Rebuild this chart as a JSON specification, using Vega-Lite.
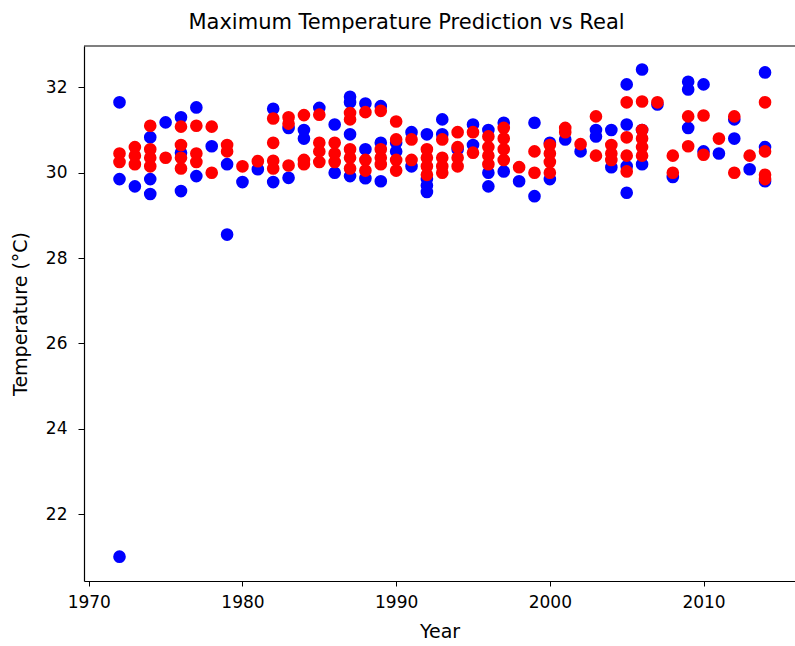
{
  "$schema": "https://vega.github.io/schema/vega-lite/v6.json",
  "width": 711,
  "height": 535,
  "autosize": {"type": "none"},
  "padding": {"left": 84, "top": 46, "right": 0, "bottom": 65},
  "background": "white",
  "config": {
    "view": {"stroke": null},
    "font": "DejaVu Sans",
    "axis": {"domainColor": "black", "tickColor": "black", "labelColor": "black", "titleColor": "black", "grid": false, "labelFontSize": 17, "titleFontSize": 19, "titleFontWeight": "normal", "tickSize": 5, "domainWidth": 1.2}
  },
  "title": {"text": "Maximum Temperature Prediction vs Real", "fontSize": 21, "fontWeight": "normal", "color": "black", "anchor": "middle", "dx": -33, "offset": 12},
  "datasets": {
    "real": [
      {"year":1972,"temp":31.65},{"year":1972,"temp":29.85},{"year":1972,"temp":21.0},
      {"year":1973,"temp":29.68},
      {"year":1974,"temp":30.83},{"year":1974,"temp":29.85},{"year":1974,"temp":29.5},
      {"year":1975,"temp":31.18},
      {"year":1976,"temp":31.3},{"year":1976,"temp":30.47},{"year":1976,"temp":29.57},
      {"year":1977,"temp":31.53},{"year":1977,"temp":29.92},
      {"year":1978,"temp":30.62},
      {"year":1979,"temp":30.2},{"year":1979,"temp":28.55},
      {"year":1980,"temp":29.78},
      {"year":1981,"temp":30.08},
      {"year":1982,"temp":31.5},{"year":1982,"temp":29.78},
      {"year":1983,"temp":31.05},{"year":1983,"temp":29.88},
      {"year":1984,"temp":31.0},{"year":1984,"temp":30.8},
      {"year":1985,"temp":31.52},
      {"year":1986,"temp":31.13},{"year":1986,"temp":30.0},
      {"year":1987,"temp":31.78},{"year":1987,"temp":31.65},{"year":1987,"temp":30.9},{"year":1987,"temp":29.92},
      {"year":1988,"temp":31.62},{"year":1988,"temp":30.55},{"year":1988,"temp":29.87},
      {"year":1989,"temp":31.56},{"year":1989,"temp":30.7},{"year":1989,"temp":29.8},
      {"year":1990,"temp":30.7},{"year":1990,"temp":30.5},
      {"year":1991,"temp":30.95},{"year":1991,"temp":30.15},
      {"year":1992,"temp":30.9},{"year":1992,"temp":29.85},{"year":1992,"temp":29.7},{"year":1992,"temp":29.55},
      {"year":1993,"temp":31.25},{"year":1993,"temp":30.9},
      {"year":1994,"temp":30.55},
      {"year":1995,"temp":31.13},{"year":1995,"temp":30.65},
      {"year":1996,"temp":31.0},{"year":1996,"temp":30.0},{"year":1996,"temp":29.68},
      {"year":1997,"temp":31.17},{"year":1997,"temp":30.03},
      {"year":1998,"temp":29.8},
      {"year":1999,"temp":31.17},{"year":1999,"temp":29.45},
      {"year":2000,"temp":30.7},{"year":2000,"temp":29.85},
      {"year":2001,"temp":30.78},
      {"year":2002,"temp":30.5},
      {"year":2003,"temp":31.0},{"year":2003,"temp":30.85},
      {"year":2004,"temp":31.0},{"year":2004,"temp":30.13},
      {"year":2005,"temp":32.07},{"year":2005,"temp":31.13},{"year":2005,"temp":30.15},{"year":2005,"temp":29.53},
      {"year":2006,"temp":32.42},{"year":2006,"temp":31.0},{"year":2006,"temp":30.2},
      {"year":2007,"temp":31.6},
      {"year":2008,"temp":29.9},
      {"year":2009,"temp":32.13},{"year":2009,"temp":31.95},{"year":2009,"temp":31.05},
      {"year":2010,"temp":32.07},{"year":2010,"temp":30.5},
      {"year":2011,"temp":30.45},
      {"year":2012,"temp":31.25},{"year":2012,"temp":30.8},
      {"year":2013,"temp":30.08},
      {"year":2014,"temp":32.35},{"year":2014,"temp":30.6},{"year":2014,"temp":29.8}
    ],
    "pred": [
      {"year":1972,"temp":30.45},{"year":1972,"temp":30.25},
      {"year":1973,"temp":30.6},{"year":1973,"temp":30.4},{"year":1973,"temp":30.2},
      {"year":1974,"temp":31.1},{"year":1974,"temp":30.55},{"year":1974,"temp":30.35},{"year":1974,"temp":30.15},
      {"year":1975,"temp":30.35},
      {"year":1976,"temp":31.08},{"year":1976,"temp":30.65},{"year":1976,"temp":30.35},{"year":1976,"temp":30.1},
      {"year":1977,"temp":31.1},{"year":1977,"temp":30.45},{"year":1977,"temp":30.25},
      {"year":1978,"temp":31.08},{"year":1978,"temp":30.0},
      {"year":1979,"temp":30.65},{"year":1979,"temp":30.5},
      {"year":1980,"temp":30.15},
      {"year":1981,"temp":30.27},
      {"year":1982,"temp":31.27},{"year":1982,"temp":30.7},{"year":1982,"temp":30.28},{"year":1982,"temp":30.1},
      {"year":1983,"temp":31.3},{"year":1983,"temp":31.15},{"year":1983,"temp":30.17},
      {"year":1984,"temp":31.35},{"year":1984,"temp":30.3},{"year":1984,"temp":30.2},
      {"year":1985,"temp":31.36},{"year":1985,"temp":30.7},{"year":1985,"temp":30.5},{"year":1985,"temp":30.25},
      {"year":1986,"temp":30.7},{"year":1986,"temp":30.45},{"year":1986,"temp":30.25},
      {"year":1987,"temp":31.4},{"year":1987,"temp":31.25},{"year":1987,"temp":30.55},{"year":1987,"temp":30.35},{"year":1987,"temp":30.1},
      {"year":1988,"temp":31.42},{"year":1988,"temp":30.3},{"year":1988,"temp":30.05},
      {"year":1989,"temp":31.45},{"year":1989,"temp":30.55},{"year":1989,"temp":30.35},{"year":1989,"temp":30.2},
      {"year":1990,"temp":31.2},{"year":1990,"temp":30.78},{"year":1990,"temp":30.3},{"year":1990,"temp":30.05},
      {"year":1991,"temp":30.78},{"year":1991,"temp":30.3},
      {"year":1992,"temp":30.55},{"year":1992,"temp":30.35},{"year":1992,"temp":30.15},{"year":1992,"temp":29.95},
      {"year":1993,"temp":30.78},{"year":1993,"temp":30.35},{"year":1993,"temp":30.15},{"year":1993,"temp":30.0},
      {"year":1994,"temp":30.95},{"year":1994,"temp":30.6},{"year":1994,"temp":30.35},{"year":1994,"temp":30.15},
      {"year":1995,"temp":30.95},{"year":1995,"temp":30.47},
      {"year":1996,"temp":30.85},{"year":1996,"temp":30.6},{"year":1996,"temp":30.4},{"year":1996,"temp":30.2},
      {"year":1997,"temp":31.05},{"year":1997,"temp":30.8},{"year":1997,"temp":30.55},{"year":1997,"temp":30.3},
      {"year":1998,"temp":30.13},
      {"year":1999,"temp":30.5},{"year":1999,"temp":30.0},
      {"year":2000,"temp":30.65},{"year":2000,"temp":30.45},{"year":2000,"temp":30.25},{"year":2000,"temp":30.0},
      {"year":2001,"temp":31.05},{"year":2001,"temp":30.95},
      {"year":2002,"temp":30.67},
      {"year":2003,"temp":31.32},{"year":2003,"temp":30.4},
      {"year":2004,"temp":30.65},{"year":2004,"temp":30.45},{"year":2004,"temp":30.3},
      {"year":2005,"temp":31.65},{"year":2005,"temp":30.83},{"year":2005,"temp":30.4},{"year":2005,"temp":30.03},
      {"year":2006,"temp":31.67},{"year":2006,"temp":31.0},{"year":2006,"temp":30.8},{"year":2006,"temp":30.6},{"year":2006,"temp":30.4},
      {"year":2007,"temp":31.65},
      {"year":2008,"temp":30.4},{"year":2008,"temp":30.0},
      {"year":2009,"temp":31.32},{"year":2009,"temp":30.62},
      {"year":2010,"temp":31.34},{"year":2010,"temp":30.42},
      {"year":2011,"temp":30.8},
      {"year":2012,"temp":31.32},{"year":2012,"temp":30.0},
      {"year":2013,"temp":30.4},
      {"year":2014,"temp":31.65},{"year":2014,"temp":30.5},{"year":2014,"temp":29.95},{"year":2014,"temp":29.85}
    ]
  },
  "layer": [
    {
      "data": {"name": "real"},
      "mark": {"type": "point", "filled": true, "size": 160, "color": "#0000ff", "opacity": 1, "strokeWidth": 0},
      "encoding": {
        "x": {"field": "year", "type": "quantitative", "scale": {"domain": [1969.69, 2015.95], "nice": false, "zero": false},
              "axis": {"values": [1970, 1980, 1990, 2000, 2010], "format": "d", "title": "Year", "labelPadding": 8, "titlePadding": 12}},
        "y": {"field": "temp", "type": "quantitative", "scale": {"domain": [20.43, 32.97], "nice": false, "zero": false},
              "axis": {"values": [22, 24, 26, 28, 30, 32], "title": "Temperature (°C)", "tickSize": 6, "labelPadding": 11, "titlePadding": 15}}
      }
    },
    {
      "data": {"name": "pred"},
      "mark": {"type": "point", "filled": true, "size": 160, "color": "#ff0000", "opacity": 1, "strokeWidth": 0},
      "encoding": {
        "x": {"field": "year", "type": "quantitative"},
        "y": {"field": "temp", "type": "quantitative"}
      }
    },
    {
      "data": {"values": [{"v": 1}]},
      "mark": {"type": "rule", "color": "black", "strokeWidth": 1.2},
      "encoding": {"y": {"datum": 32.97, "type": "quantitative"}}
    }
  ]
}
